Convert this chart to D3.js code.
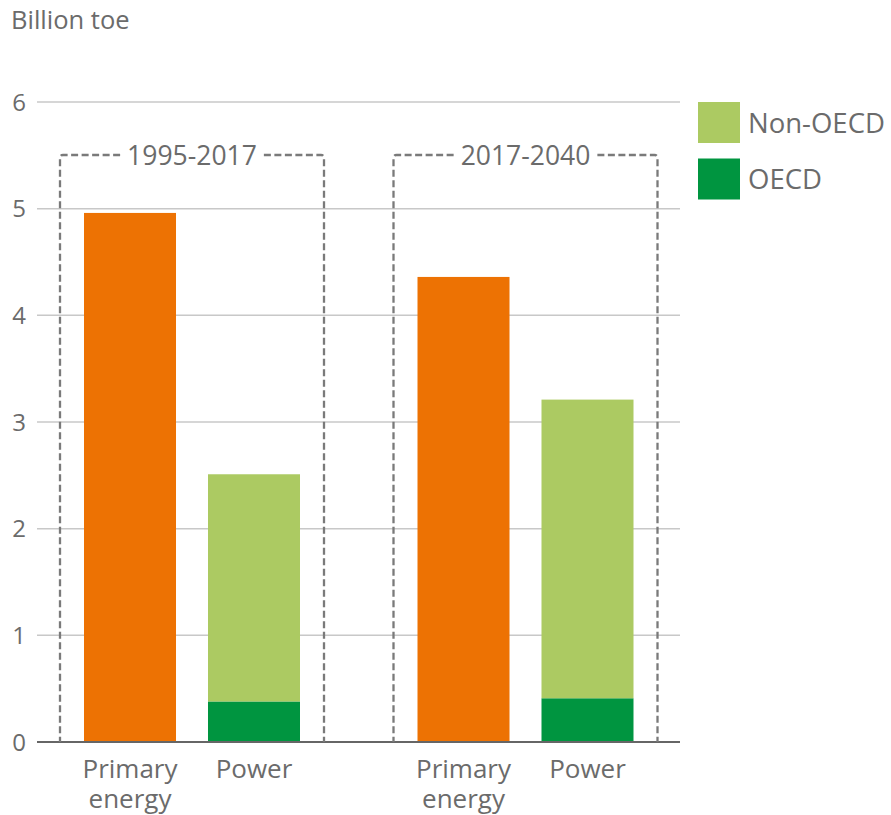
<!DOCTYPE html>
<html><head><meta charset="utf-8">
<script src="https://cdn.jsdelivr.net/npm/d3@7"></script>
<style>body{margin:0;background:#fff;} text{font-family:"Open Sans","Liberation Sans",Arial,sans-serif;}</style>
</head><body>
<svg id="c" width="891" height="815"></svg>
<script>
const periods = ["1995-2017", "2017-2040"];
const categories = ["Primary energy", "Power"];
const primaryEnergy = [4.96, 4.36];
const powerOECD = [0.38, 0.41];
const powerNonOECD = [2.13, 2.80];
const yTicks = [0, 1, 2, 3, 4, 5, 6];
const legendItems = ["Non-OECD", "OECD"];

const colors = {primary: "#ED7203", nonOECD: "#ACCA62", OECD: "#009540"};
const textColor = "#6b6b6b";

const svg = d3.select("#c");
const y = d3.scaleLinear().domain([0, 6]).range([742, 102]);
const xGroup = d3.scaleBand().domain(periods).range([60, 657.5]).paddingInner(0.2084).paddingOuter(0);
const xInner = d3.scaleBand().domain(categories).range([24, 240]).paddingInner(0.258).paddingOuter(0);

// gridlines
svg.append("g").selectAll("line").data(yTicks.filter(d => d > 0)).join("line")
  .attr("x1", 37).attr("x2", 680).attr("y1", d => y(d)).attr("y2", d => y(d))
  .attr("stroke", "#c8c8c8").attr("stroke-width", 1.5);

// y tick labels
svg.append("g").selectAll("text").data(yTicks).join("text")
  .attr("x", 19).attr("y", d => y(d)).attr("dy", "0.36em").attr("text-anchor", "middle")
  .attr("font-size", 24).attr("fill", textColor).text(d => d);

svg.append("text").attr("x", 11).attr("y", 29).attr("font-size", 25.5).attr("fill", textColor).text("Billion toe");

// bars
const bars = [];
periods.forEach((p, i) => {
  bars.push({p, c: categories[0], y0: 0, y1: primaryEnergy[i], fill: colors.primary});
  bars.push({p, c: categories[1], y0: 0, y1: powerOECD[i], fill: colors.OECD});
  bars.push({p, c: categories[1], y0: powerOECD[i], y1: powerOECD[i] + powerNonOECD[i], fill: colors.nonOECD});
});
svg.append("g").selectAll("rect").data(bars).join("rect")
  .attr("x", d => xGroup(d.p) + xInner(d.c)).attr("width", xInner.bandwidth())
  .attr("y", d => y(d.y1)).attr("height", d => y(d.y0) - y(d.y1)).attr("fill", d => d.fill);

// baseline
svg.append("line").attr("x1", 37).attr("x2", 680).attr("y1", y(0)).attr("y2", y(0))
  .attr("stroke", "#666").attr("stroke-width", 2);

// dashed group boxes with labels
const boxTop = 155;
periods.forEach(p => {
  const x0 = xGroup(p), x1 = x0 + xGroup.bandwidth(), cx = (x0 + x1) / 2;
  const t = svg.append("text").attr("x", cx).attr("y", boxTop).attr("dy", "0.36em")
    .attr("text-anchor", "middle").attr("font-size", 26.5).attr("fill", textColor).text(p);
  const bb = t.node().getBBox();
  const gap = 7, r = 3;
  const path = d3.path();
  path.moveTo(bb.x - gap, boxTop);
  path.lineTo(x0 + r, boxTop);
  path.quadraticCurveTo(x0, boxTop, x0, boxTop + r);
  path.lineTo(x0, y(0));
  const p2 = d3.path();
  p2.moveTo(bb.x + bb.width + gap, boxTop);
  p2.lineTo(x1 - r, boxTop);
  p2.quadraticCurveTo(x1, boxTop, x1, boxTop + r);
  p2.lineTo(x1, y(0));
  [path, p2].forEach(pp => svg.append("path").attr("d", pp.toString()).attr("fill", "none")
    .attr("stroke", "#7a7a7a").attr("stroke-width", 2.3).attr("stroke-dasharray", "7,3.5"));
});

// category labels (one text element per label, wrapped with tspans)
periods.forEach(p => {
  categories.forEach(c => {
    const cx = xGroup(p) + xInner(c) + xInner.bandwidth() / 2;
    const words = c === "Primary energy" ? ["Primary", "energy"] : [c];
    const t = svg.append("text").attr("x", cx).attr("y", 778)
      .attr("text-anchor", "middle").attr("font-size", 26).attr("fill", textColor);
    words.forEach((w, k) => t.append("tspan").attr("x", cx).attr("y", 778 + k * 30).text(w));
  });
});

// legend
const legColors = [colors.nonOECD, colors.OECD];
const lg = svg.append("g").selectAll("g").data(legendItems).join("g")
  .attr("transform", (d, i) => `translate(698,${102 + i * 56.5})`);
lg.append("rect").attr("width", 42).attr("height", 41).attr("fill", (d, i) => legColors[i]);
lg.append("text").attr("x", 50).attr("y", 21).attr("dy", "0.36em").attr("font-size", 27.5)
  .attr("fill", textColor).text(d => d);
</script>
</body></html>
